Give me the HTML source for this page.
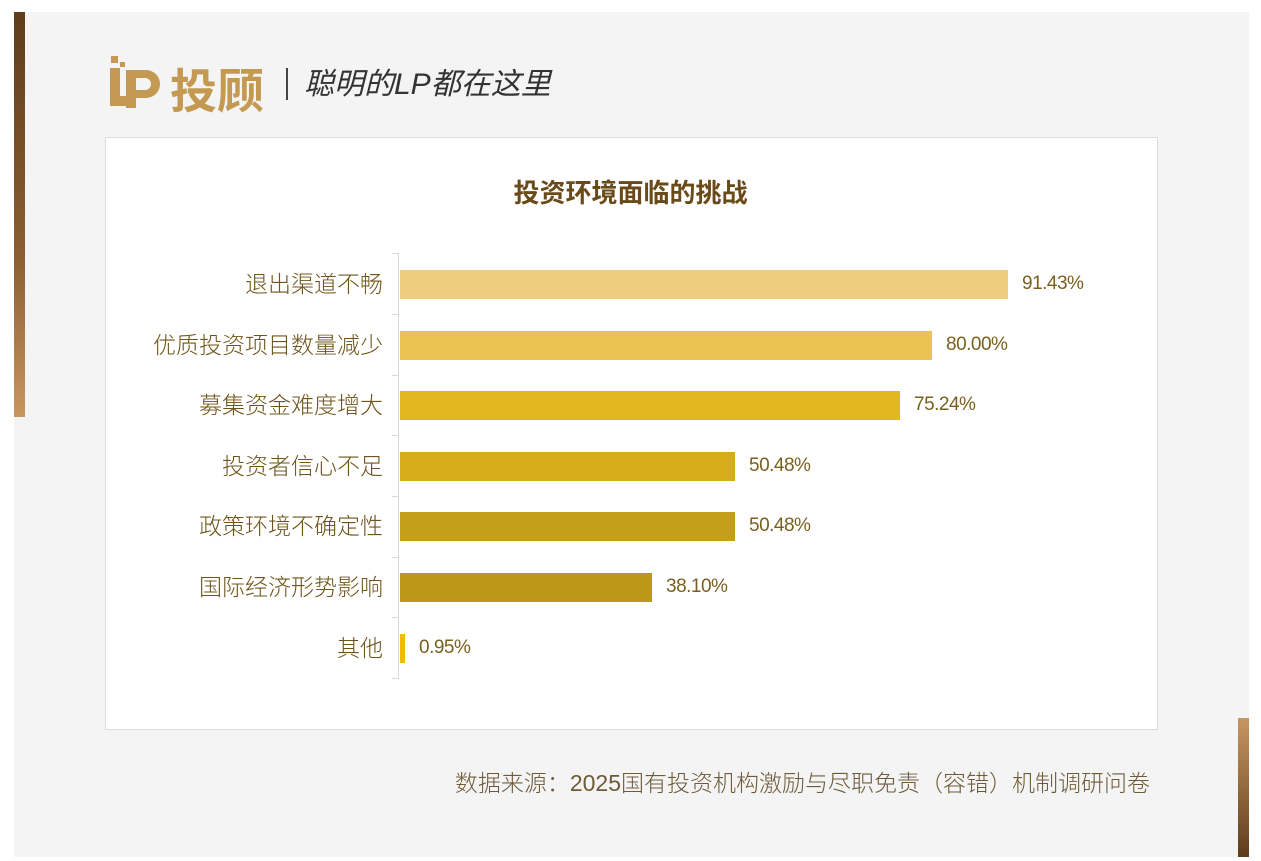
<!DOCTYPE html>
<html><head><meta charset="utf-8"><style>
body{margin:0;width:1261px;height:861px;background:#fff;position:relative;overflow:hidden;font-family:"Liberation Sans","Noto Sans CJK SC",sans-serif;}
.abs{position:absolute}
.lab{position:absolute;right:878px;font-size:23px;color:#6e5418;line-height:26px;white-space:nowrap;font-weight:300}
.val{position:absolute;font-size:19px;color:#7a6020;line-height:24px;letter-spacing:-0.5px}
.bar{position:absolute;left:400px;height:29px}
.tick{position:absolute;left:392px;width:7px;height:1px;background:#d8d8d8}
</style></head><body>
<div class="abs" style="left:14px;top:12px;width:1235px;height:845px;background:#f4f4f4"></div>
<div class="abs" style="left:14px;top:12px;width:11px;height:405px;background:linear-gradient(#5e3d1c,#8a5e30 60%,#c89660)"></div>
<div class="abs" style="left:1238px;top:718px;width:11px;height:139px;background:linear-gradient(#c89660,#5e3d1c)"></div>
<svg class="abs" style="left:108px;top:56px" width="60" height="56"><g fill="#c49a52">
<rect x="3" y="0" width="7" height="7"/><rect x="12" y="6" width="5" height="5"/><rect x="2" y="12" width="10" height="38"/><rect x="2" y="40" width="20" height="10"/>
<path d="M18 14h20a14 14 0 0 1 0 28h-10v10h-10z M28 22v12h9a6 6 0 0 0 0-12z" fill-rule="evenodd"/></g></svg>
<div class="abs" style="left:170px;top:60px;font-size:47px;font-weight:bold;color:#c49a52;line-height:56px;font-family:'Noto Sans CJK SC',sans-serif">投顾</div>
<div class="abs" style="left:286px;top:68px;width:2px;height:32px;background:#444"></div>
<div class="abs" style="left:304px;top:65px;font-size:30px;font-style:italic;color:#333;line-height:40px">聪明的LP都在这里</div>
<div class="abs" style="left:105px;top:137px;width:1051px;height:591px;background:#fff;border:1px solid #dcdcdc"></div>
<div class="abs" style="left:0;width:1261px;top:176px;text-align:center;font-size:26px;font-weight:bold;color:#6b4a1a;line-height:34px">投资环境面临的挑战</div>
<div class="abs" style="left:398px;top:253px;width:1px;height:426px;background:#d8d8d8"></div>
<div class="tick" style="top:253px"></div><div class="tick" style="top:314px"></div><div class="tick" style="top:375px"></div><div class="tick" style="top:435px"></div><div class="tick" style="top:496px"></div><div class="tick" style="top:557px"></div><div class="tick" style="top:617px"></div><div class="tick" style="top:678px"></div>

<div class="lab" style="top:271px">退出渠道不畅</div>
<div class="bar" style="top:270px;width:608px;background:#EECD7E"></div>
<div class="val" style="left:1022px;top:272px">91.43%</div>

<div class="lab" style="top:332px">优质投资项目数量减少</div>
<div class="bar" style="top:331px;width:532px;background:#ECC253"></div>
<div class="val" style="left:946px;top:333px">80.00%</div>

<div class="lab" style="top:392px">募集资金难度增大</div>
<div class="bar" style="top:391px;width:500px;background:#E2B720"></div>
<div class="val" style="left:914px;top:393px">75.24%</div>

<div class="lab" style="top:453px">投资者信心不足</div>
<div class="bar" style="top:452px;width:335px;background:#D4AC1C"></div>
<div class="val" style="left:749px;top:454px">50.48%</div>

<div class="lab" style="top:513px">政策环境不确定性</div>
<div class="bar" style="top:512px;width:335px;background:#C59E1A"></div>
<div class="val" style="left:749px;top:514px">50.48%</div>

<div class="lab" style="top:574px">国际经济形势影响</div>
<div class="bar" style="top:573px;width:252px;background:#BD9818"></div>
<div class="val" style="left:666px;top:575px">38.10%</div>

<div class="lab" style="top:635px">其他</div>
<div class="bar" style="top:634px;width:5px;background:#F0BC00"></div>
<div class="val" style="left:419px;top:636px">0.95%</div>

<div class="abs" style="right:111px;top:768px;font-size:23px;color:#6e5a38;line-height:30px;white-space:nowrap;font-weight:300">数据来源：2025国有投资机构激励与尽职免责（容错）机制调研问卷</div>
</body></html>
